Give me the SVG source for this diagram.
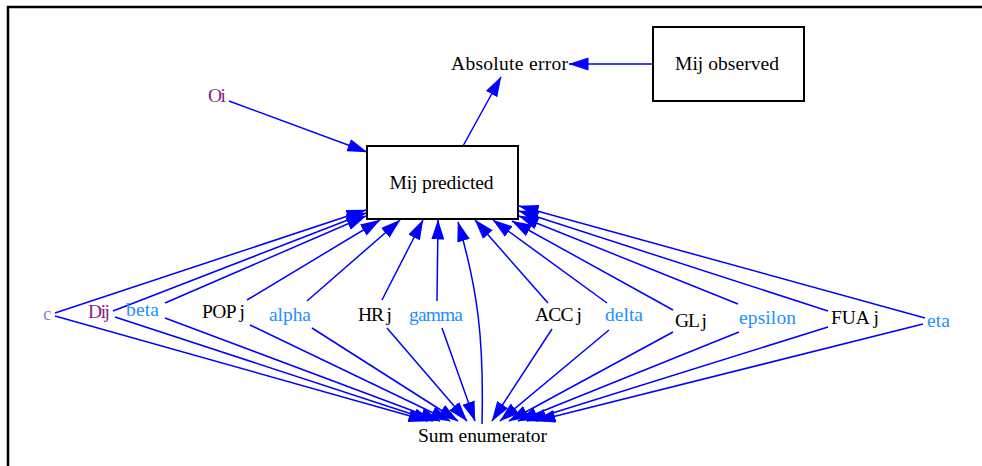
<svg xmlns="http://www.w3.org/2000/svg" width="982" height="466" viewBox="0 0 982 466">
<style>
text{font-family:"Liberation Serif","Times New Roman",serif;font-size:19.5px;fill:#000}
.blue{fill:#1e90ff}
.purple{fill:#8b1a8b}
.lav{fill:#9585c8}
.box{fill:#fff;stroke:#000;stroke-width:2}
.e{fill:none;stroke:#0000ff;stroke-width:1.5;marker-end:url(#ah)}
</style>
<defs>
<marker id="ah" markerUnits="userSpaceOnUse" markerWidth="21" markerHeight="14" refX="19.5" refY="7" orient="auto">
<path d="M0,0.5 L20,7 L0,13.5 z" fill="#0000ff"/>
</marker>
</defs>
<rect width="982" height="466" fill="#fff"/>
<path d="M8,466 V7 H982" fill="none" stroke="#000" stroke-width="2.5"/>
<g id="edges">
<path class="e" d="M652,64 L569,64"/>
<path class="e" d="M463,146 L501,77"/>
<path class="e" d="M229,101 L367,152"/>
<path class="e" d="M55,313 L366,210"/>
<path class="e" d="M113,311 L366,213"/>
<path class="e" d="M165,303 L366,216"/>
<path class="e" d="M247,300 L380,220"/>
<path class="e" d="M307,301 L400,220"/>
<path class="e" d="M382,300 L423,220"/>
<path class="e" d="M437,301 L438,220"/>
<path class="e" d="M548,303 L475,220"/>
<path class="e" d="M607,303 L493,220"/>
<path class="e" d="M673,310 L512,221"/>
<path class="e" d="M738,304 L519,216"/>
<path class="e" d="M828,311 L519,211"/>
<path class="e" d="M925,318 L519,206"/>
<path class="e" d="M482,424 C484,340 478,290 458,222"/>
<path class="e" d="M55,316 L428,421"/>
<path class="e" d="M115,317 L433,421"/>
<path class="e" d="M165,318 L440,421"/>
<path class="e" d="M250,325 L450,421"/>
<path class="e" d="M312,328 L458,421"/>
<path class="e" d="M387,328 L467,421"/>
<path class="e" d="M442,328 L475,421"/>
<path class="e" d="M552,329 L492,421"/>
<path class="e" d="M609,330 L500,421"/>
<path class="e" d="M673,332 L509,421"/>
<path class="e" d="M739,332 L518,421"/>
<path class="e" d="M828,327 L527,421"/>
<path class="e" d="M923,324 L536,421"/>
</g>
<g id="abs_error"><text x="451" y="70" textLength="117" lengthAdjust="spacing">Absolute error</text></g>
<g id="mij_observed"><rect class="box" x="653" y="27" width="151" height="74"/><text x="675" y="70" textLength="104" lengthAdjust="spacing">Mij observed</text></g>
<g id="mij_predicted"><rect class="box" x="367" y="146" width="151" height="73"/><text x="389.5" y="189" textLength="104" lengthAdjust="spacing">Mij predicted</text></g>
<g id="oi"><text class="purple" x="208" y="102" textLength="18" lengthAdjust="spacing">Oi</text></g>
<g id="c"><text class="lav" x="43" y="320" textLength="7" lengthAdjust="spacing">c</text></g>
<g id="dij"><text class="purple" x="88" y="318" textLength="22" lengthAdjust="spacing">Dij</text></g>
<g id="beta"><text class="blue" x="126" y="316" textLength="33" lengthAdjust="spacing">beta</text></g>
<g id="popj"><text x="202" y="318" textLength="43" lengthAdjust="spacing">POP j</text></g>
<g id="alpha"><text class="blue" x="269" y="321" textLength="42" lengthAdjust="spacing">alpha</text></g>
<g id="hrj"><text x="358" y="321" textLength="34" lengthAdjust="spacing">HR j</text></g>
<g id="gamma"><text class="blue" x="409" y="321" textLength="54" lengthAdjust="spacing">gamma</text></g>
<g id="accj"><text x="535" y="321" textLength="47" lengthAdjust="spacing">ACC j</text></g>
<g id="delta"><text class="blue" x="605" y="321" textLength="38" lengthAdjust="spacing">delta</text></g>
<g id="glj"><text x="675" y="327" textLength="32" lengthAdjust="spacing">GL j</text></g>
<g id="epsilon"><text class="blue" x="739" y="324" textLength="57" lengthAdjust="spacing">epsilon</text></g>
<g id="fuaj"><text x="831" y="324" textLength="48" lengthAdjust="spacing">FUA j</text></g>
<g id="eta"><text class="blue" x="927" y="327" textLength="23" lengthAdjust="spacing">eta</text></g>
<g id="sum_enumerator"><text x="418" y="442" textLength="129" lengthAdjust="spacing">Sum enumerator</text></g>
</svg>
